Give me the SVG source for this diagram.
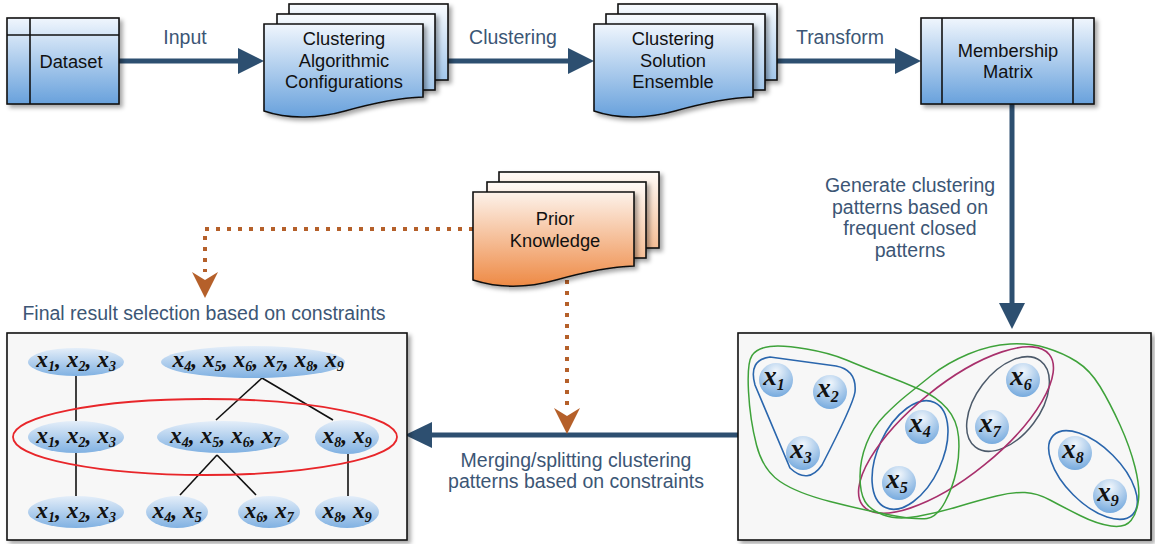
<svg xmlns="http://www.w3.org/2000/svg" width="1155" height="544" viewBox="0 0 1155 544">
<defs>
<linearGradient id="gB" x1="0" y1="0" x2="0" y2="1"><stop offset="0" stop-color="#f0f6fd"/><stop offset="1" stop-color="#68a1dc"/></linearGradient>
<linearGradient id="gB2" x1="0" y1="0" x2="0" y2="1"><stop offset="0" stop-color="#f8fbfe"/><stop offset="1" stop-color="#a3c7eb"/></linearGradient>
<linearGradient id="gO" x1="0" y1="0" x2="0" y2="1"><stop offset="0" stop-color="#fdf2ea"/><stop offset="1" stop-color="#ee8a45"/></linearGradient>
<linearGradient id="gO2" x1="0" y1="0" x2="0" y2="1"><stop offset="0" stop-color="#fffaf6"/><stop offset="1" stop-color="#f5be96"/></linearGradient>
<linearGradient id="gE" x1="0" y1="0" x2="0" y2="1"><stop offset="0" stop-color="#e4eef9"/><stop offset="1" stop-color="#80b1e2"/></linearGradient>
<radialGradient id="gC" cx="0.5" cy="0.25" r="0.8"><stop offset="0" stop-color="#f2f7fc"/><stop offset="1" stop-color="#6ea5dc"/></radialGradient>
<filter id="sh" x="-10%" y="-10%" width="130%" height="130%"><feDropShadow dx="3" dy="3" stdDeviation="2" flood-color="#000" flood-opacity="0.35"/></filter>
<style>
.nt{font-family:"Liberation Sans",Arial,sans-serif;font-size:18.3px;fill:#111;text-anchor:middle}
.lb{font-family:"Liberation Sans",Arial,sans-serif;font-size:19.5px;fill:#3c5675;text-anchor:middle}
.m{font-family:"Liberation Serif","Times New Roman",serif;font-weight:bold;font-style:italic;font-size:23.5px;fill:#111;text-anchor:middle}
.mc{font-family:"Liberation Serif","Times New Roman",serif;font-weight:bold;font-style:italic;font-size:27px;fill:#111;text-anchor:middle}
.s{font-size:14px}
.s2{font-size:16px}
.box{stroke:#111;stroke-width:1.6}
.arr{stroke:#2d4f70;stroke-width:5;fill:none}
.head{fill:#2d4f70}
.dot{stroke:#b5602a;stroke-width:4;stroke-dasharray:4 7;fill:none}
.ohead{fill:#b5602a}
.ell{fill:url(#gE)}
.cir{fill:url(#gC)}
.tl{stroke:#111;stroke-width:1.6}
.cb{fill:none;stroke:#2a66ad;stroke-width:1.6}
.cg{fill:none;stroke:#3ea23a;stroke-width:1.5}
</style>
</defs>

<g id="connectors">
<line class="arr" x1="119" y1="61" x2="240" y2="61"/>
<polygon class="head" points="238,48 264,61 238,74"/>
<line class="arr" x1="448" y1="61" x2="570" y2="61"/>
<polygon class="head" points="568,48 594,61 568,74"/>
<line class="arr" x1="777" y1="61" x2="897" y2="61"/>
<polygon class="head" points="895,48 921,61 895,74"/>
<line class="arr" x1="1012" y1="104" x2="1012" y2="305"/>
<polygon class="head" points="999,303 1012,329 1025,303"/>
<line class="arr" x1="738" y1="435" x2="430" y2="435"/>
<polygon class="head" points="432,422 405,435 432,448"/>
<path class="dot" d="M473,229 H205 V272"/>
<path class="ohead" d="M192,272 L205,280 L218,272 L205,298 Z"/>
<path class="dot" d="M567,280 V408"/>
<path class="ohead" d="M554,408 L567,416 L580,408 L567,434 Z"/>
<text class="lb" x="185" y="44">Input</text>
<text class="lb" x="513" y="44">Clustering</text>
<text class="lb" x="840" y="44">Transform</text>
<text class="lb" x="910" y="192">Generate clustering</text>
<text class="lb" x="910" y="213.5">patterns based on</text>
<text class="lb" x="910" y="235">frequent closed</text>
<text class="lb" x="910" y="256.5">patterns</text>
<text class="lb" x="576" y="467">Merging/splitting clustering</text>
<text class="lb" x="576" y="488">patterns based on constraints</text>
<text class="lb" x="204" y="320">Final result selection based on constraints</text>
</g>

<g id="dataset">
<rect class="box" x="7" y="18" width="112" height="86" fill="url(#gB)" filter="url(#sh)"/>
<line class="box" x1="30" y1="18" x2="30" y2="104"/>
<line class="box" x1="7" y1="35" x2="119" y2="35"/>
<text class="nt" x="71" y="68">Dataset</text>
</g>

<g id="algorithmic-configurations">
<rect class="box" x="289" y="4" width="159" height="76" fill="url(#gB2)" filter="url(#sh)"/>
<rect class="box" x="277" y="14" width="158" height="76" fill="url(#gB2)" filter="url(#sh)"/>
<path class="box" d="M264,24 H423 V97 C395,98 370,104 345,111 C320,118 290,120 264,111 Z" fill="url(#gB)" filter="url(#sh)"/>
<text class="nt" x="344" y="45">Clustering</text>
<text class="nt" x="344" y="67">Algorithmic</text>
<text class="nt" x="344" y="88">Configurations</text>
</g>

<g id="solution-ensemble">
<rect class="box" x="618" y="4" width="159" height="76" fill="url(#gB2)" filter="url(#sh)"/>
<rect class="box" x="606" y="14" width="159" height="76" fill="url(#gB2)" filter="url(#sh)"/>
<path class="box" d="M594,24 H753 V97 C725,98 700,104 675,111 C650,118 620,120 594,111 Z" fill="url(#gB)" filter="url(#sh)"/>
<text class="nt" x="673" y="45">Clustering</text>
<text class="nt" x="673" y="67">Solution</text>
<text class="nt" x="673" y="88">Ensemble</text>
</g>

<g id="membership-matrix">
<rect class="box" x="921" y="18" width="173" height="86" fill="url(#gB)" filter="url(#sh)"/>
<line class="box" x1="942" y1="18" x2="942" y2="104"/>
<line class="box" x1="1073" y1="18" x2="1073" y2="104"/>
<text class="nt" x="1008" y="57">Membership</text>
<text class="nt" x="1008" y="78">Matrix</text>
</g>

<g id="prior-knowledge">
<rect class="box" x="499" y="172" width="160" height="76" fill="url(#gO2)" filter="url(#sh)"/>
<rect class="box" x="487" y="182" width="159" height="76" fill="url(#gO2)" filter="url(#sh)"/>
<path class="box" d="M473,192 H634 V266 C606,267 581,273 556,280 C531,287 501,289 473,280 Z" fill="url(#gO)" filter="url(#sh)"/>
<text class="nt" x="555" y="225">Prior</text>
<text class="nt" x="555" y="247">Knowledge</text>
</g>

<g id="final-result">
<rect class="box" x="7" y="333" width="400" height="207" fill="#f7f7f7" filter="url(#sh)"/>
<line class="tl" x1="76" y1="376" x2="76" y2="421"/>
<line class="tl" x1="262" y1="378" x2="216" y2="420"/>
<line class="tl" x1="262" y1="378" x2="333" y2="420"/>
<line class="tl" x1="76" y1="453" x2="76" y2="497"/>
<line class="tl" x1="217" y1="455" x2="180" y2="495"/>
<line class="tl" x1="217" y1="455" x2="256" y2="495"/>
<line class="tl" x1="348" y1="454" x2="348" y2="496"/>
<ellipse class="ell" cx="76" cy="362" rx="48" ry="14"/>
<ellipse class="ell" cx="253" cy="362" rx="92" ry="16"/>
<ellipse class="ell" cx="76" cy="437" rx="48" ry="16"/>
<ellipse class="ell" cx="223" cy="437" rx="66" ry="16"/>
<ellipse class="ell" cx="347" cy="437" rx="32" ry="17"/>
<ellipse class="ell" cx="76" cy="512" rx="48" ry="16"/>
<ellipse class="ell" cx="177" cy="512" rx="31" ry="16"/>
<ellipse class="ell" cx="269" cy="512" rx="31" ry="16"/>
<ellipse class="ell" cx="347" cy="512" rx="32" ry="16"/>
<text class="m" x="76" y="367">x<tspan class="s" dy="4">1</tspan><tspan dy="-4">, x</tspan><tspan class="s" dy="4">2</tspan><tspan dy="-4">, x</tspan><tspan class="s" dy="4">3</tspan></text>
<text class="m" x="258" y="367">x<tspan class="s" dy="4">4</tspan><tspan dy="-4">, x</tspan><tspan class="s" dy="4">5</tspan><tspan dy="-4">, x</tspan><tspan class="s" dy="4">6</tspan><tspan dy="-4">, x</tspan><tspan class="s" dy="4">7</tspan><tspan dy="-4">, x</tspan><tspan class="s" dy="4">8</tspan><tspan dy="-4">, x</tspan><tspan class="s" dy="4">9</tspan></text>
<text class="m" x="76" y="443">x<tspan class="s" dy="4">1</tspan><tspan dy="-4">, x</tspan><tspan class="s" dy="4">2</tspan><tspan dy="-4">, x</tspan><tspan class="s" dy="4">3</tspan></text>
<text class="m" x="225" y="443">x<tspan class="s" dy="4">4</tspan><tspan dy="-4">, x</tspan><tspan class="s" dy="4">5</tspan><tspan dy="-4">, x</tspan><tspan class="s" dy="4">6</tspan><tspan dy="-4">, x</tspan><tspan class="s" dy="4">7</tspan></text>
<text class="m" x="347" y="443">x<tspan class="s" dy="4">8</tspan><tspan dy="-4">, x</tspan><tspan class="s" dy="4">9</tspan></text>
<text class="m" x="76" y="518">x<tspan class="s" dy="4">1</tspan><tspan dy="-4">, x</tspan><tspan class="s" dy="4">2</tspan><tspan dy="-4">, x</tspan><tspan class="s" dy="4">3</tspan></text>
<text class="m" x="177" y="518">x<tspan class="s" dy="4">4</tspan><tspan dy="-4">, x</tspan><tspan class="s" dy="4">5</tspan></text>
<text class="m" x="269" y="518">x<tspan class="s" dy="4">6</tspan><tspan dy="-4">, x</tspan><tspan class="s" dy="4">7</tspan></text>
<text class="m" x="347" y="518">x<tspan class="s" dy="4">8</tspan><tspan dy="-4">, x</tspan><tspan class="s" dy="4">9</tspan></text>
<ellipse cx="205" cy="437" rx="192" ry="38" fill="none" stroke="#e8262a" stroke-width="1.8"/>
</g>

<g id="clustering-patterns">
<rect class="box" x="738" y="333" width="413" height="207" fill="#f7f7f7" filter="url(#sh)"/>
<circle class="cir" cx="776" cy="380" r="17"/>
<circle class="cir" cx="830" cy="392" r="17"/>
<circle class="cir" cx="803" cy="453" r="17"/>
<circle class="cir" cx="922" cy="427" r="17"/>
<circle class="cir" cx="899" cy="483" r="17"/>
<circle class="cir" cx="1023" cy="380" r="17"/>
<circle class="cir" cx="992" cy="427" r="17"/>
<circle class="cir" cx="1075" cy="453" r="17"/>
<circle class="cir" cx="1110" cy="496" r="17"/>
<text class="mc" x="774" y="385">x<tspan class="s2" dy="5">1</tspan></text>
<text class="mc" x="828" y="397">x<tspan class="s2" dy="5">2</tspan></text>
<text class="mc" x="801" y="458">x<tspan class="s2" dy="5">3</tspan></text>
<text class="mc" x="920" y="432">x<tspan class="s2" dy="5">4</tspan></text>
<text class="mc" x="897" y="488">x<tspan class="s2" dy="5">5</tspan></text>
<text class="mc" x="1021" y="385">x<tspan class="s2" dy="5">6</tspan></text>
<text class="mc" x="990" y="432">x<tspan class="s2" dy="5">7</tspan></text>
<text class="mc" x="1073" y="458">x<tspan class="s2" dy="5">8</tspan></text>
<text class="mc" x="1108" y="501">x<tspan class="s2" dy="5">9</tspan></text>
<path class="cb" d="M770,357 L836,366 Q857,370 855,392 Q853,405 822,465 Q808,485 790,468 L755,385 Q748,360 770,357 Z"/>
<ellipse class="cb" cx="910" cy="455" rx="58" ry="32" transform="rotate(-65 910 455)"/>
<ellipse cx="1008" cy="404" rx="54" ry="32" transform="rotate(-53 1008 404)" fill="none" stroke="#4c5a6a" stroke-width="1.5"/>
<ellipse class="cb" cx="1093" cy="475" rx="56" ry="28" transform="rotate(45 1093 475)"/>
<ellipse cx="956" cy="430" rx="120" ry="45" transform="rotate(-39 956 430)" fill="none" stroke="#a8306c" stroke-width="1.6"/>
<path class="cg" d="M752,355.5 Q757,348 770,346.5 Q783,345 806.5,349 Q830,353 846.5,360 Q863,367 883,374.5 Q903,382 920,389.5 Q937,397 947,408.5 Q957,420 958.5,436.5 Q960,453 956.5,470 Q953,487 945,502 Q937,517 927,518.5 Q917,520 890,515 Q863,510 830,501.5 Q797,493 780,481.5 Q763,470 756.5,445 Q750,420 748.5,391.5 Q747,363 752,355.5 Z"/>
<path class="cg" d="M932,375 Q947,363 968.5,354 Q990,345 1010,344 Q1030,343 1046.5,348 Q1063,353 1076.5,361.5 Q1090,370 1100,386.5 Q1110,403 1120,425 Q1130,447 1135,467 Q1140,487 1138.5,500 Q1137,513 1131,520.5 Q1125,528 1111,526 Q1097,524 1080,515.5 Q1063,507 1050,500 Q1037,493 1025,492.5 Q1013,492 996.5,496 Q980,500 958.5,506.5 Q937,513 917,516.5 Q897,520 883.5,515 Q870,510 865,501.5 Q860,493 860,476.5 Q860,460 866.5,443.5 Q873,427 885,415 Q897,403 907,395 Q917,387 932,375 Z"/>
</g>
</svg>
